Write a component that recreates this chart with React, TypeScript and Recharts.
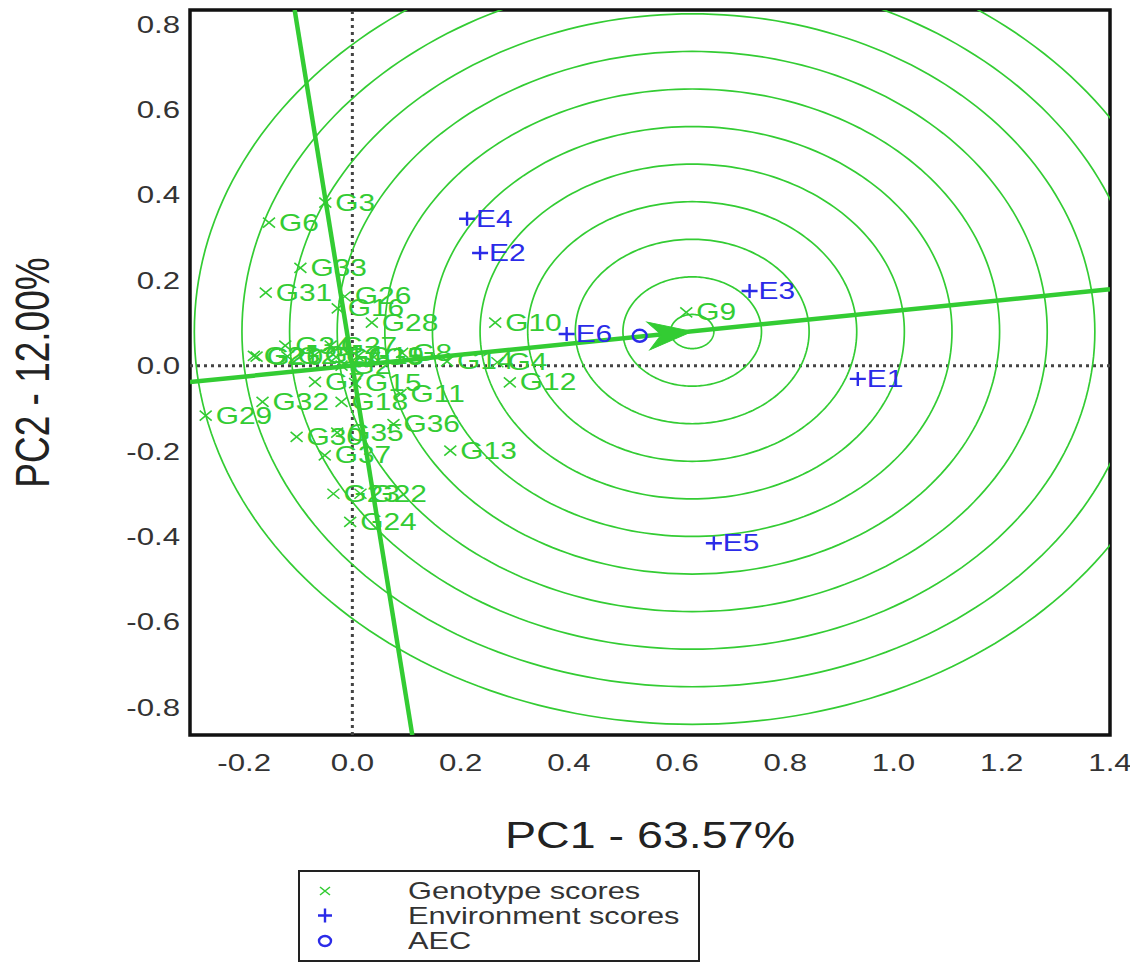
import React from 'react';
import { ScatterChart, Scatter, XAxis, YAxis, ReferenceLine, ReferenceArea, Legend } from 'recharts';

const FONT = '"Liberation Sans", Arial, sans-serif';
const GREEN = '#33cc33';
const BLUE = '#2b2be8';
const STRETCH = 1.3;

// genotype scores (PC1, PC2)
const genotypes = ['G1', 'G2', 'G3', 'G4', 'G5', 'G6', 'G7', 'G8', 'G9', 'G10', 'G11', 'G12', 'G13', 'G14', 'G15', 'G16', 'G17', 'G18', 'G19', 'G20', 'G21', 'G22', 'G23', 'G24', 'G25', 'G26', 'G27', 'G28', 'G29', 'G30', 'G31', 'G32', 'G33', 'G34', 'G35', 'G36', 'G37'];
const genoPC1 = [-0.03, -0.02, -0.05, 0.268, 0.04, -0.154, -0.069, 0.092, 0.617, 0.264, 0.089, 0.291, 0.181, 0.175, 0.005, -0.027, -0.07, -0.02, 0.01, -0.177, -0.182, 0.015, -0.035, -0.004, -0.12, -0.014, -0.04, 0.036, -0.271, -0.103, -0.16, -0.166, -0.096, -0.124, -0.028, 0.076, -0.051];
const genoPC2 = [0.02, 0.0, 0.382, 0.008, 0.02, 0.335, -0.038, 0.03, 0.125, 0.101, -0.066, -0.039, -0.199, 0.01, -0.041, 0.134, 0.024, -0.085, 0.022, 0.021, 0.023, -0.3, -0.3, -0.366, 0.022, 0.162, 0.047, 0.101, -0.117, -0.167, 0.171, -0.085, 0.229, 0.047, -0.157, -0.137, -0.21];

// environment scores
const environments = ['E1', 'E2', 'E3', 'E4', 'E5', 'E6'];
const envPC1 = [0.934, 0.236, 0.734, 0.212, 0.668, 0.396];
const envPC2 = [-0.031, 0.264, 0.175, 0.344, -0.416, 0.074];

// average environment coordinate and ideal genotype (arrow head, circle centre)
const aecPC1 = [0.531];
const aecPC2 = [0.07];
const idealPC1 = [0.628];
const idealPC2 = [0.08];
const aecSlope = 0.128;
const circleRadii = [0.04, 0.128, 0.216, 0.304, 0.392, 0.48, 0.568, 0.656, 0.744, 0.832, 0.92];

const xTicks = [-0.2, 0, 0.2, 0.4, 0.6, 0.8, 1.0, 1.2, 1.4];
const yTicks = [-0.8, -0.6, -0.4, -0.2, 0, 0.2, 0.4, 0.6, 0.8];
const X_MIN = -0.3;
const X_MAX = 1.4;
const Y_MIN = -0.865;
const Y_MAX = 0.833;

const genoData = genotypes.map((name, i) => ({ name, x: genoPC1[i], y: genoPC2[i] }));
const envData = environments.map((name, i) => ({ name, x: envPC1[i], y: envPC2[i] }));
const aecData = [{ x: aecPC1[0], y: aecPC2[0] }];
const idealData = [{ x: idealPC1[0], y: idealPC2[0] }];

const circleData = circleRadii.map((r) =>
  Array.from({ length: 241 }, (_, i) => {
    const t = (i / 240) * Math.PI * 2;
    return { x: idealPC1[0] + r * Math.cos(t), y: idealPC2[0] + r * Math.sin(t) };
  })
);

const GenoShape = (p: any) => {
  const { cx, cy, payload } = p;
  return (
    <g>
      <path d={`M${cx - 6},${cy - 5}L${cx + 6},${cy + 5}M${cx - 6},${cy + 5}L${cx + 6},${cy - 5}`} stroke={GREEN} strokeWidth={1.6} />
      <text transform={`translate(${cx + 10},${cy + 8}) scale(${STRETCH},1)`} fontSize={23} fontFamily={FONT} fill={GREEN}>
        {payload.name}
      </text>
    </g>
  );
};

const EnvShape = (p: any) => {
  const { cx, cy, payload } = p;
  return (
    <g>
      <path d={`M${cx - 8},${cy}L${cx + 8},${cy}M${cx},${cy - 7}L${cx},${cy + 7}`} stroke={BLUE} strokeWidth={2.4} />
      <text transform={`translate(${cx + 9},${cy + 8}) scale(${STRETCH},1)`} fontSize={23} fontFamily={FONT} fill={BLUE}>
        {payload.name}
      </text>
    </g>
  );
};

const AecShape = (p: any) => <ellipse cx={p.cx} cy={p.cy} rx={7} ry={6} fill="none" stroke={BLUE} strokeWidth={2.4} />;

const ArrowShape = (p: any) => (
  <polygon
    points="0,0 -44,-14 -31,0 -44,14"
    transform={`translate(${p.cx},${p.cy}) rotate(-5.8)`}
    fill={GREEN}
    stroke={GREEN}
    strokeWidth={1}
  />
);

const Empty = () => <g />;

const XTick = (p: any) => (
  <text transform={`translate(${p.x},${p.y + 36}) scale(${STRETCH},1)`} textAnchor="middle" fontSize={24} fontFamily={FONT} fill="#333">
    {Number(p.payload.value).toFixed(1)}
  </text>
);

const YTick = (p: any) => (
  <text transform={`translate(${p.x - 10},${p.y + 8.5}) scale(${STRETCH},1)`} textAnchor="end" fontSize={24} fontFamily={FONT} fill="#333">
    {Number(p.payload.value).toFixed(1)}
  </text>
);

const XTitle = (p: any) => {
  const vb = p.viewBox;
  return (
    <text transform={`translate(${vb.x + vb.width / 2},${vb.y + 113}) scale(1.26,1)`} textAnchor="middle" fontSize={37} fontFamily={FONT} fill="#222">
      PC1 - 63.57%
    </text>
  );
};

const YTitle = (p: any) => {
  const vb = p.viewBox;
  return (
    <text transform={`translate(41,${vb.y + vb.height / 2}) scale(${STRETCH},1) rotate(-90)`} textAnchor="middle" fontSize={37} fontFamily={FONT} fill="#222">
      PC2 - 12.00%
    </text>
  );
};

const legendRows = [
  { label: 'Genotype scores', kind: 'geno' },
  { label: 'Environment scores', kind: 'env' },
  { label: 'AEC', kind: 'aec' },
];

const LegendBox = () => (
  <div style={{ width: 402, height: 92, border: '2px solid #222', boxSizing: 'border-box', position: 'relative', background: '#fff', fontFamily: FONT }}>
    {legendRows.map((row, i) => (
      <div key={row.label} style={{ position: 'absolute', left: 0, top: 6 + i * 25, height: 25, width: '100%' }}>
        <svg width={24} height={25} style={{ position: 'absolute', left: 13, top: 0 }}>
          {row.kind === 'geno' && <path d="M7,9L17,17M7,17L17,9" stroke={GREEN} strokeWidth={1.6} />}
          {row.kind === 'env' && <path d="M5,12.5L19,12.5M12,5.5L12,19.5" stroke={BLUE} strokeWidth={2.4} />}
          {row.kind === 'aec' && <ellipse cx={12} cy={13} rx={6} ry={5} fill="none" stroke={BLUE} strokeWidth={2.4} />}
        </svg>
        <span style={{ position: 'absolute', left: 108, top: 0, fontSize: 24, lineHeight: '25px', color: '#333', transform: 'scaleX(1.28)', transformOrigin: 'left center', whiteSpace: 'nowrap' }}>
          {row.label}
        </span>
      </div>
    ))}
  </div>
);

export default function App() {
  return (
    <ScatterChart width={1122} height={957} margin={{ top: 2, right: 20, bottom: 170, left: 0 }}>
      <XAxis
        type="number"
        dataKey="x"
        domain={[X_MIN, X_MAX]}
        ticks={xTicks}
        interval={0}
        allowDataOverflow
        axisLine={false}
        tickLine={false}
        tickSize={0}
        tickMargin={0}
        height={60}
        tick={XTick}
        label={{ content: XTitle }}
      />
      <YAxis
        type="number"
        dataKey="y"
        domain={[Y_MIN, Y_MAX]}
        ticks={yTicks}
        interval={0}
        allowDataOverflow
        axisLine={false}
        tickLine={false}
        tickSize={0}
        tickMargin={0}
        width={182}
        tick={YTick}
        label={{ content: YTitle }}
      />
      {circleData.map((pts, i) => (
        <Scatter key={'c' + i} data={pts} line={{ stroke: GREEN, strokeWidth: 1.7 }} shape={Empty} isAnimationActive={false} legendType="none" />
      ))}
      <ReferenceLine x={0} stroke="#444" strokeWidth={3} strokeDasharray="3 4" />
      <ReferenceLine y={0} stroke="#444" strokeWidth={3} strokeDasharray="3 4" />
      <ReferenceLine
        segment={[{ x: X_MIN, y: X_MIN * aecSlope }, { x: X_MAX, y: X_MAX * aecSlope }]}
        stroke={GREEN}
        strokeWidth={4.5}
        ifOverflow="hidden"
      />
      <ReferenceLine
        segment={[{ x: -Y_MAX * aecSlope, y: Y_MAX }, { x: -Y_MIN * aecSlope, y: Y_MIN }]}
        stroke={GREEN}
        strokeWidth={4.5}
        ifOverflow="hidden"
      />
      <Scatter data={genoData} shape={GenoShape} isAnimationActive={false} />
      <Scatter data={envData} shape={EnvShape} isAnimationActive={false} />
      <Scatter data={aecData} shape={AecShape} isAnimationActive={false} />
      <Scatter data={idealData} shape={ArrowShape} isAnimationActive={false} />
      <ReferenceArea x1={X_MIN} x2={X_MAX} y1={Y_MIN} y2={Y_MAX} fill="none" stroke="#111" strokeWidth={3.5} ifOverflow="visible" />
      <Legend layout="vertical" align="center" verticalAlign="middle" wrapperStyle={{ left: 290, top: 862, width: 402 }} content={() => <LegendBox />} />
    </ScatterChart>
  );
}
